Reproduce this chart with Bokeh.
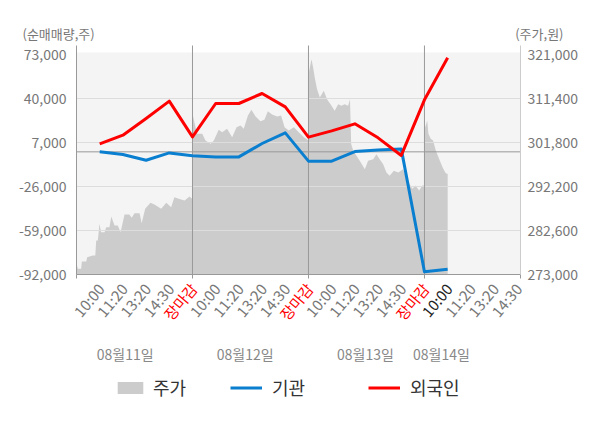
import numpy as np
from bokeh.plotting import figure
from bokeh.models import (Range1d, LinearAxis, FixedTicker, NumeralTickFormatter,
                          BoxAnnotation, Label, LabelSet, ColumnDataSource, Legend, LegendItem,
                          CustomJSTickFormatter)
from bokeh.core.properties import value
from bokeh.embed import file_html
from bokeh.resources import INLINE

FONT = "Noto Sans CJK KR"

# ---------------- data ----------------
days = ["08월11일", "08월12일", "08월13일", "08월14일"]
slots = ["10:00", "11:20", "13:20", "14:30", "장마감"]
left_ticks = [-92000, -59000, -26000, 7000, 40000, 73000]
right_ticks = [273000, 282600, 292200, 301800, 311400, 321000]

# net buying volume (shares) at each time slot, from 08/11 10:00 to 08/14 10:00
inst = [0, -2000, -6300, -800, -3000, -3800, -3800, 6250, 14200,
        -7000, -7000, 200, 1400, 2200, -90000, -88000]
foreign = [6000, 12500, 25000, 38000, 11200, 36250, 36250, 43750, 33700,
           11000, 15700, 21000, 10500, -2700, 39000, 70500]

# intraday price (position within day in slot units, price in won)
day1_pos = [0.0, 0.06, 0.2, 0.23, 0.42, 0.46, 0.70, 0.81, 0.85, 0.92, 0.99, 1.06, 1.21, 1.28,
            1.42, 1.50, 1.64, 1.78, 1.90, 2.07, 2.28, 2.38, 2.50, 2.72, 2.81, 2.96, 3.19, 3.36,
            3.65, 3.87, 4.08, 4.22, 4.44, 4.66, 4.87, 5.0]
day1_price = [275330, 274240, 274240, 275840, 275840, 276780, 277140, 277140, 280420, 280420,
              284060, 282240, 282240, 283330, 283330, 285650, 283690, 283690, 282240, 286090,
              286090, 285360, 286380, 286380, 284200, 287330, 288640, 288270, 287330, 288640,
              287680, 289860, 289500, 289140, 290010, 289500]
day2_pos = [0.0, 0.05, 0.13, 0.20, 0.42, 0.56, 0.78, 0.92, 1.13, 1.28, 1.49, 1.71, 1.90, 2.07,
            2.21, 2.39, 2.54, 2.72, 2.93, 3.10, 3.25, 3.43, 3.65, 3.82, 3.97, 4.15, 4.37, 4.58,
            4.80, 5.0]
day2_price = [308060, 307000, 305140, 303690, 303690, 302240, 301510, 302240, 304570, 304060,
              304790, 302960, 305140, 305510, 304790, 307690, 308930, 307470, 306450, 306740,
              308630, 307910, 307470, 307690, 305140, 304420, 305140, 304060, 302960, 302240]
day3_pos = [0.0, 0.03, 0.13, 0.20, 0.27, 0.37, 0.49, 0.66, 0.80, 0.95, 1.13, 1.28, 1.42, 1.56,
            1.71, 1.79, 1.84, 1.93, 2.07, 2.21, 2.43, 2.57, 2.79, 2.93, 3.07, 3.22, 3.36, 3.50,
            3.68, 3.87, 4.08, 4.27, 4.48, 4.61, 4.77, 4.91, 5.0]
day3_price = [316000, 317440, 319980, 318160, 315980, 313430, 311620, 313070, 311250, 310160,
              308710, 310160, 309800, 310160, 309800, 311250, 301500, 300000, 298900, 297810,
              295980, 297810, 298160, 299250, 298160, 297070, 295250, 294530, 295630, 295250,
              295980, 293510, 291700, 292420, 291330, 292420, 292420]
day4_pos = [0.0, 0.03, 0.12, 0.17, 0.27, 0.37, 0.49, 0.63, 0.78, 0.89, 0.95, 1.0]
day4_price = [305140, 305140, 306600, 303690, 302600, 302240, 300050, 298240, 296410, 295320,
              294970, 294970]

# ---------------- layout (page pixels) ----------------
W, H = 600, 428
PL, PR, PT, PB, GT = 76, 520, 45, 274, 52   # plot left/right/top/bottom, grey band top
X_END = 19.14                               # data x at the right edge of the plot
KX = X_END / (PR - PL)                      # data x per pixel
KY = 750.0                                  # left-axis units per pixel
KP = 9600 / 44                              # price units per pixel
y0 = left_ticks[0]
p0 = right_ticks[0]

def px_x(px):          # page x -> data x
    return (px - PL) * KX

def px_y(py):          # page y -> left-axis data
    return y0 + (PB - py) * KY

p = figure(width=W, height=H, output_backend="svg", toolbar_location=None,
           x_range=Range1d(px_x(0), px_x(W)), y_range=Range1d(px_y(H), px_y(0)),
           min_border=0, min_border_left=0, min_border_right=0,
           min_border_top=0, min_border_bottom=0)
p.extra_y_ranges = {"price": Range1d(p0 - (H - PB) * KP, p0 + PB * KP)}
p.outline_line_color = None
p.background_fill_color = "white"
p.border_fill_color = "white"
p.xgrid.visible = False
p.ygrid.visible = False

y_plot_top = px_y(PT)

# grey plot background
p.add_layout(BoxAnnotation(left=0, right=X_END, bottom=y0, top=px_y(GT),
                           fill_color="#f4f4f4", fill_alpha=1, line_color=None, level="underlay"))

# price area
px_all, pr_all = [], []
n_slots = len(slots)
for d, (pos, pr) in enumerate([(day1_pos, day1_price), (day2_pos, day2_price),
                               (day3_pos, day3_price), (day4_pos, day4_price)]):
    px_all += [d * n_slots + v for v in pos]
    pr_all += pr
area = p.varea(x=px_all, y1=p0, y2=pr_all, y_range_name="price", fill_color="#cccccc")

# horizontal grid lines, zero line, day separators
gt = left_ticks[1:-1]
p.segment(x0=[0] * len(gt), x1=[X_END] * len(gt), y0=gt, y1=gt, line_color="#dddddd", line_width=1)
p.segment(x0=[0], x1=[X_END], y0=[0], y1=[0], line_color="#999999", line_width=1)
sep = [d * n_slots for d in range(1, len(days))]
p.segment(x0=sep, x1=sep, y0=[y0] * len(sep), y1=[y_plot_top] * len(sep),
          line_color="#999999", line_width=1)

# lines
xs = [i + 1 for i in range(len(inst))]
l_inst = p.line(xs, inst, line_color="#0a7fd0", line_width=3, line_join="round")
l_for = p.line(xs, foreign, line_color="#ff0000", line_width=3, line_join="round")

# axes
def style_axis(ax, color, standoff):
    ax.major_tick_out = 0
    ax.major_tick_in = 0
    ax.minor_tick_out = 0
    ax.minor_tick_in = 0
    ax.axis_line_color = color
    ax.major_label_standoff = standoff
    ax.major_label_text_font = FONT
    ax.major_label_text_font_size = "14px"
    ax.major_label_text_color = "#777777"

ya = p.yaxis[0]
ya.ticker = FixedTicker(ticks=left_ticks)
ya.formatter = NumeralTickFormatter(format="0,0")
ya.fixed_location = 0
ya.bounds = (y0, y_plot_top)
style_axis(ya, "#999999", 10)

ra = LinearAxis(y_range_name="price", ticker=FixedTicker(ticks=right_ticks),
                formatter=NumeralTickFormatter(format="0,0"))
ra.fixed_location = X_END
ra.bounds = (p0, p0 + (PB - PT) * KP)
style_axis(ra, "#cccccc", 7)
p.add_layout(ra, "right")

xa = p.xaxis[0]
xa.ticker = FixedTicker(ticks=[d * n_slots for d in range(len(days))] + [X_END])
xa.fixed_location = y0
xa.bounds = (0, X_END)
xa.major_tick_out = 4
xa.major_tick_in = 0
xa.minor_tick_out = 0
xa.minor_tick_in = 0
xa.axis_line_color = "#999999"
xa.major_tick_line_color = "#999999"
xa.formatter = CustomJSTickFormatter(code="return ''")

# x tick labels (rotated); the last day stops at 14:30
lab_x, lab_t, lab_c = [], [], []
for d in range(len(days)):
    for k, s in enumerate(slots):
        if d == len(days) - 1 and s == "장마감":
            continue
        lab_x.append(d * n_slots + k + 1 + 1 * KX)
        lab_t.append(s)
        if s == "장마감":
            lab_c.append("#ff0000")
        elif d == len(days) - 1 and k == 0:
            lab_c.append("#222222")
        else:
            lab_c.append("#777777")
lab_src = ColumnDataSource(dict(x=lab_x, y=[px_y(285)] * len(lab_x), t=lab_t, c=lab_c))
p.add_layout(LabelSet(x="x", y="y", text="t", text_color="c", source=lab_src,
                      angle=50, angle_units="deg", text_align="right", text_baseline="middle",
                      text_font=value(FONT), text_font_size=value("15px")))

# date labels
date_px = [124.7, 244.7, 365, 441]
date_src = ColumnDataSource(dict(x=[px_x(v) for v in date_px], y=[px_y(353)] * len(days), t=days))
p.add_layout(LabelSet(x="x", y="y", text="t", source=date_src, text_align="center",
                      text_baseline="middle", text_font=value(FONT),
                      text_font_size=value("14px"), text_color="#888888"))

# axis titles
p.add_layout(Label(x=px_x(22), y=px_y(33), text="(순매매량,주)", text_align="left",
                   text_baseline="middle", text_font=FONT, text_font_size="13px",
                   text_color="#777777"))
p.add_layout(Label(x=px_x(563), y=px_y(33), text="(주가,원)", text_align="right",
                   text_baseline="middle", text_font=FONT, text_font_size="13px",
                   text_color="#777777"))

# legends
for r, name, lx, st in [(area, "주가", 114, 7), (l_inst, "기관", 230, 10), (l_for, "외국인", 368, 10)]:
    lg = Legend(items=[LegendItem(label=name, renderers=[r])], location=(lx, 28),
                orientation="horizontal", glyph_width=32, glyph_height=15, label_standoff=st,
                label_text_font=FONT, label_text_font_size="18px", label_text_color="#333333",
                padding=0, margin=0, spacing=0, border_line_color=None,
                background_fill_alpha=0)
    p.add_layout(lg, "center")

open("out.html", "w").write(file_html(p, INLINE))
